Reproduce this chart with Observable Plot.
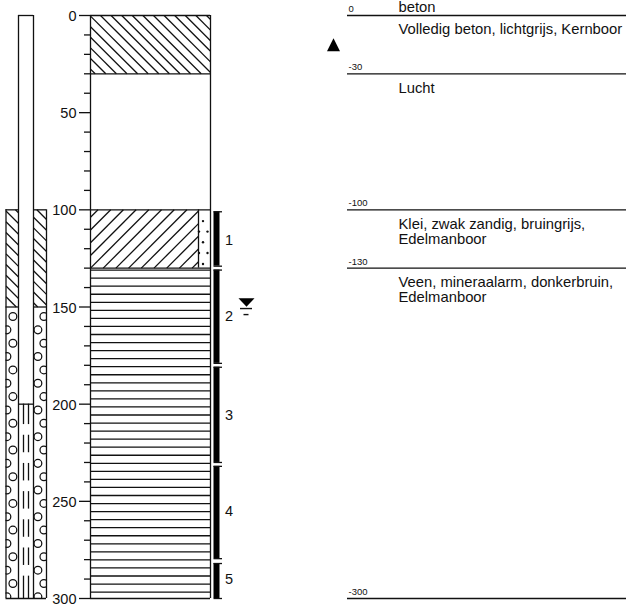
<!DOCTYPE html>
<html>
<head>
<meta charset="utf-8">
<script src="https://cdn.jsdelivr.net/npm/d3@7"></script>
<script src="https://cdn.jsdelivr.net/npm/@observablehq/plot@0.6"></script>
<style>
html,body{margin:0;padding:0;background:#fff}
svg{display:block}
</style>
</head>
<body>
<div id="chart"></div>
<script>
// depths (cm)
const layerTops = [0, 30, 100, 130];
const layerBottoms = [30, 100, 130, 300];
const boundaries = [0, 30, 100, 130, 300];
const boundaryLabels = ["0", "-30", "-100", "-130", "-300"];
const descriptions = [
  "Volledig beton, lichtgrijs, Kernboor",
  "Lucht",
  "Klei, zwak zandig, bruingrijs,\nEdelmanboor",
  "Veen, mineraalarm, donkerbruin,\nEdelmanboor"
];
const majorTicks = [0, 50, 100, 150, 200, 250, 300];
const minorTicks = [10, 20, 30, 40, 60, 70, 80, 90, 110, 120, 130, 140, 160, 170, 180, 190, 210, 220, 230, 240, 260, 270, 280, 290];
const sampleNames = ["1", "2", "3", "4", "5"];
const sampleTops = [101, 131, 181, 232, 282];
const sampleBottoms = [129, 179, 230, 279.5, 300];
const sampleLabelDepths = [115.8, 154.9, 205.8, 255.2, 290.2];
const sandDepths = [105.8, 111.2, 116.7, 122.2, 127.9, 111.2, 122.2];
const sandSides = [202.5, 207, 202.5, 207, 202.5, 198.5, 198.5];
const filterDashTops = [200, 216, 230.5, 245, 259.5, 274, 288.5];
const filterDashBottoms = [210.5, 225, 239.5, 254, 268.5, 283, 300];
const waterDepth = 147.7;
const waterLines = [150.8, 153.9];
const waterHalfWidths = [6, 2.5];
const markerDepth = 15.1;

const font = "'Liberation Sans', Arial, sans-serif";
const layers = layerTops.map((t, i) => ({t, b: layerBottoms[i], text: descriptions[i]}));
const samples = sampleNames.map((n, i) => ({n, t: sampleTops[i], b: sampleBottoms[i], label: sampleLabelDepths[i]}));
const stroke = {stroke: "#111", strokeWidth: 1.3};
const tri = (hw, h) => ({draw(c) { c.moveTo(-hw, h / 2); c.lineTo(hw, h / 2); c.lineTo(0, -h / 2); c.closePath(); }});
const triDown = (hw, h) => ({draw(c) { c.moveTo(-hw, -h / 2); c.lineTo(hw, -h / 2); c.lineTo(0, h / 2); c.closePath(); }});

// Lithology hatching, a texture rather than data: 45-degree lines clipped to a box.
const PX = 583 / 300; // pixels per cm on the y scale
function hatch(x1, x2, t, b, dir, step, x0, d0) {
  const h = (b - t) * PX, w = x2 - x1, out = [];
  // dir = 1: "\" lines, y - x constant; dir = -1: "/" lines, y + x constant (pixels from the box corner)
  const px0 = x0 - x1, py0 = (d0 - t) * PX;
  const c0 = dir === 1 ? py0 - px0 : py0 + px0;
  const lo = dir === 1 ? -w : 0, hi = dir === 1 ? h : w + h;
  for (let c = c0 + Math.ceil((lo - c0) / step) * step; c <= hi; c += step) {
    let a, e;
    if (dir === 1) { a = Math.max(0, -c); e = Math.min(w, h - c); }
    else { a = Math.max(0, c - h); e = Math.min(w, c); }
    if (e <= a) continue;
    const ya = dir === 1 ? a + c : c - a, ye = dir === 1 ? e + c : c - e;
    out.push({x1: x1 + a, x2: x1 + e, y1: t + ya / PX, y2: t + ye / PX});
  }
  return out;
}
const hatchLines = [
  ...hatch(90, 210, 0, 30, 1, 10.6, 100, 0),
  ...hatch(90, 198, 100, 130, -1, 12.7, 90, 130),
  ...hatch(5.5, 18, 100, 150, 1, 10.7, 6, 106.4),
  ...hatch(33, 46, 100, 150, 1, 10.7, 6, 106.4)
];
const peatLines = d3.range(131, 300, 8.05 / PX);

// Gravel circles: two staggered columns in each half of the well
const gravel = [];
for (let k = 0; k <= 10; k++) {
  for (const x of [12.4, 43.4]) gravel.push({x, y: (316 + 26.7 * k - 15) / PX});
  for (const x of [6.4, 37.4]) gravel.push({x, y: (329.35 + 26.7 * k - 15) / PX});
}

const chart = Plot.plot({
  width: 626, height: 604,
  marginTop: 0, marginRight: 0, marginBottom: 0, marginLeft: 0,
  style: {fontFamily: font, background: "#fff", color: "#111"},
  x: {domain: [0, 626], range: [0, 626], axis: null},
  y: {domain: [0, 300], range: [15, 598], axis: null, clamp: false},
  marks: [
    // hatching
    Plot.link(hatchLines, {x1: "x1", x2: "x2", y1: "y1", y2: "y2", ...stroke}),
    Plot.ruleY(peatLines, {x1: 90, x2: 210, ...stroke}),
    // main column
    Plot.ruleY(boundaries, {x1: 90, x2: 210, ...stroke}),
    Plot.ruleX([90, 210], {y1: 0, y2: 300, ...stroke}),
    Plot.ruleX([198], {y1: 100, y2: 130, ...stroke}),
    Plot.dot(sandDepths, {x: (d, i) => sandSides[i], y: d => d, r: 1.2, fill: "#111"}),
    // axis
    Plot.ruleY(majorTicks, {x1: 79, x2: 90, ...stroke}),
    Plot.ruleY(minorTicks, {x1: 84, x2: 90, ...stroke}),
    Plot.text(majorTicks, {x: 76, y: d => d, text: d => String(d), textAnchor: "end", fontSize: 14.5, dy: 1}),
    // well
    Plot.dot(gravel, {x: "x", y: "y", r: 3.9, fill: "none", stroke: "#111", strokeWidth: 1.25}),
    Plot.rect([{t: 0, b: 300}], {x1: 18, x2: 33, y1: "t", y2: "b", fill: "#fff"}),
    Plot.rect([{t: 100, b: 306}], {x1: 0, x2: 5.5, y1: "t", y2: "b", fill: "#fff"}),
    Plot.rect([{t: 100, b: 306}], {x1: 46, x2: 52, y1: "t", y2: "b", fill: "#fff"}),
    Plot.rect([{t: 300, b: 306}], {x1: 0, x2: 52, y1: "t", y2: "b", fill: "#fff"}),
    Plot.ruleX([18, 33], {y1: 0, y2: 300, ...stroke}),
    Plot.ruleX([5.5, 46], {y1: 100, y2: 300, ...stroke}),
    Plot.ruleY([0], {x1: 18, x2: 33, ...stroke}),
    Plot.ruleY([100, 150], {x1: 5.5, x2: 18, ...stroke}),
    Plot.ruleY([100, 150], {x1: 33, x2: 46, ...stroke}),
    Plot.ruleY([200], {x1: 18, x2: 33, ...stroke}),
    Plot.ruleY([300], {x1: 5.5, x2: 46, ...stroke}),
    Plot.ruleX(filterDashTops, {x: 23, y1: d => d, y2: (d, i) => filterDashBottoms[i], ...stroke}),
    Plot.ruleX(filterDashTops, {x: 28, y1: d => d, y2: (d, i) => filterDashBottoms[i], ...stroke}),
    // samples
    Plot.rect(samples, {x1: 213.5, x2: 219.5, y1: "t", y2: "b", fill: "#000"}),
    Plot.ruleY(samples, {y: "t", x1: 213.5, x2: 222, ...stroke}),
    Plot.ruleY(samples, {y: "b", x1: 213.5, x2: 222, ...stroke}),
    Plot.text(samples, {x: 228.5, y: "label", text: "n", fontSize: 14.5}),
    // water level
    Plot.dot([waterDepth], {x: 246, y: d => d, symbol: triDown(8, 8.5), r: 5, fill: "#000"}),
    Plot.ruleY(waterLines, {x1: (d, i) => 246 - waterHalfWidths[i], x2: (d, i) => 246 + waterHalfWidths[i], stroke: "#111", strokeWidth: 1.4}),
    // right side description
    Plot.ruleY(boundaries, {x1: 347, x2: 626, ...stroke}),
    Plot.text(boundaries, {x: 348, y: d => d, text: (d, i) => boundaryLabels[i], textAnchor: "start", fontSize: 9.5, dy: -6.5}),
    Plot.text(["beton"], {x: 398, y: () => 0, text: d => d, textAnchor: "start", fontSize: 14.8, dy: -8}),
    Plot.text(layers, {x: 398, y: "t", text: "text", textAnchor: "start", lineAnchor: "top", fontSize: 14.8, dy: 8, lineHeight: 1.03}),
    Plot.dot([markerDepth], {x: 333, y: d => d, symbol: tri(6.5, 13), r: 5, fill: "#000"})
  ]
});
document.getElementById("chart").append(chart);
</script>
</body>
</html>
